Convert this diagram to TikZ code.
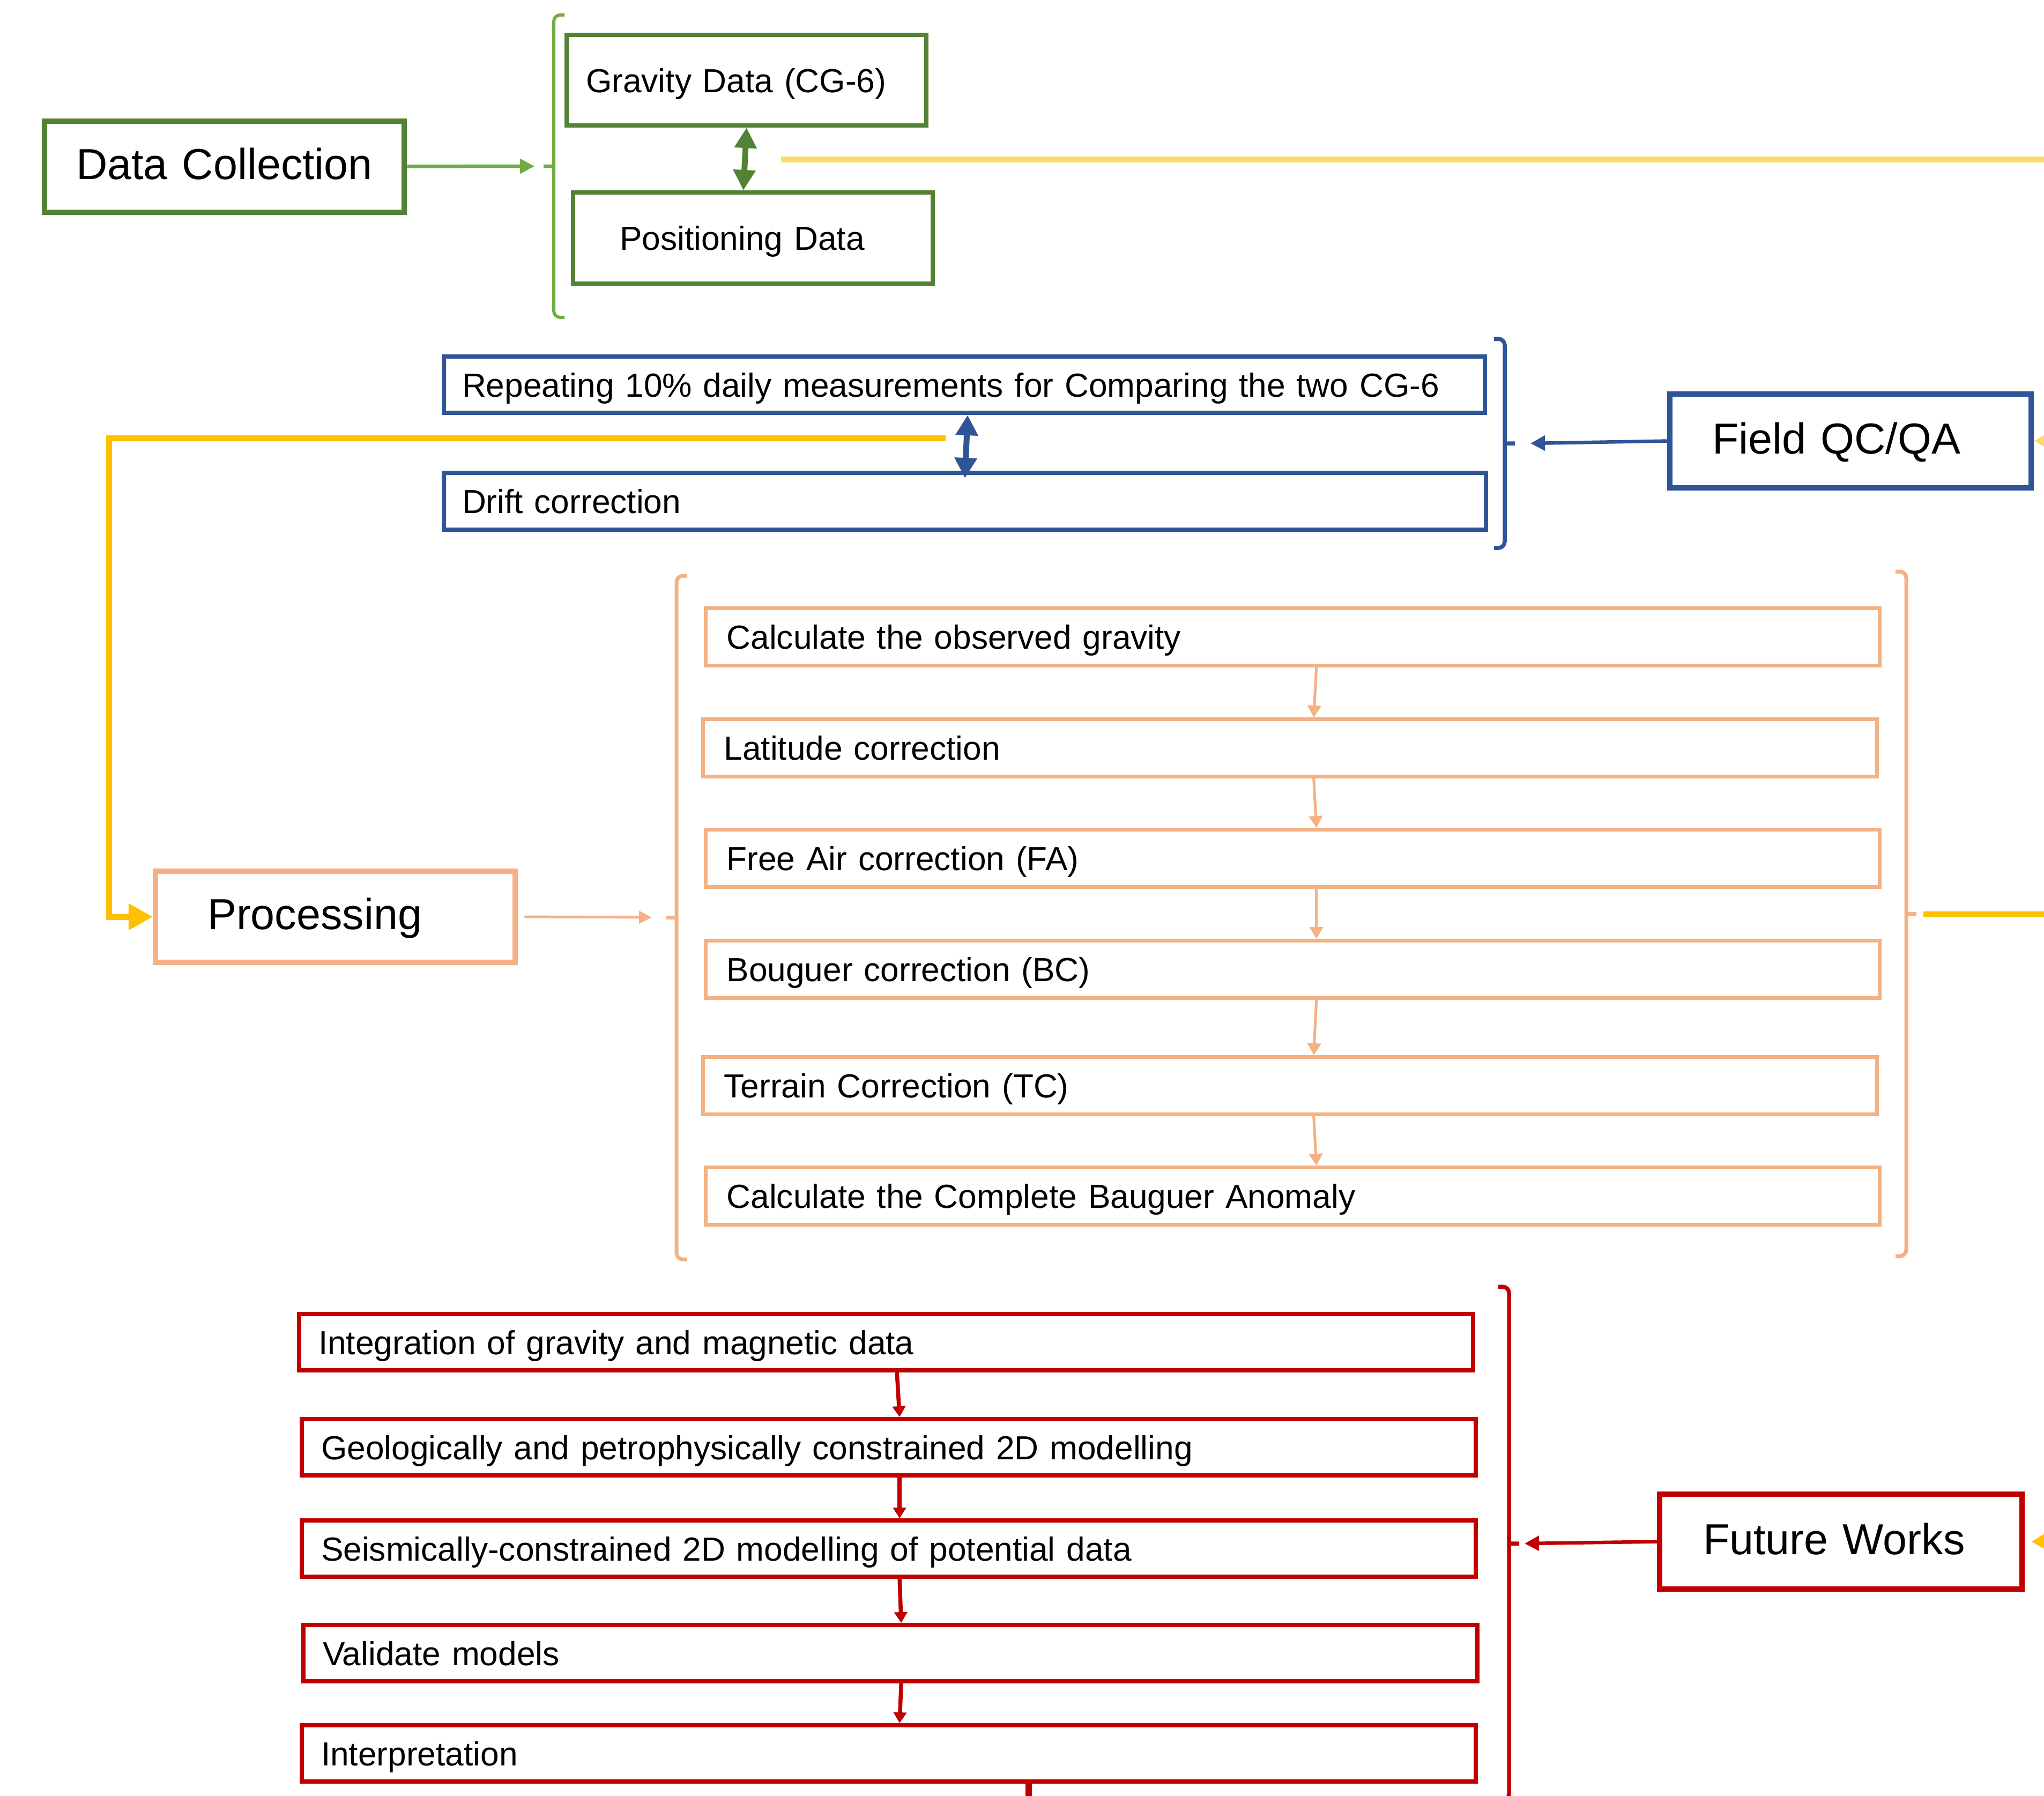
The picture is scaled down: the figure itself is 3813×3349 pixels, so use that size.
\documentclass[tikz,border=0pt]{standalone}
\usepackage{fontspec}
\setmainfont{Liberation Sans}
\usetikzlibrary{arrows.meta}
\definecolor{leaf}{HTML}{548235}
\definecolor{lime}{HTML}{70AD47}
\definecolor{navy}{HTML}{2F5597}
\definecolor{peach}{HTML}{F4B183}
\definecolor{crimson}{HTML}{C00000}
\definecolor{amber}{HTML}{FFC000}
\definecolor{butter}{HTML}{FFD966}
\begin{document}
\begin{tikzpicture}[x=0.01cm, y=-0.01cm, >={Triangle[length=0.27cm,width=0.27cm]}]
  \tikzset{task/.style={draw, rectangle, anchor=north west, align=left, inner ysep=0pt,
      line width=0.08cm, text height=12.9pt, text depth=0pt, font=\fontsize{17.7}{21}\selectfont},
    stage/.style={task, line width=0.1cm, inner xsep=0.2cm, text height=16.8pt, text depth=3.4pt,
      font=\fontsize{23}{27}\selectfont},
    lead/.style={execute at begin node=\hspace*{#1}},
    twoway/.style={line width=0.11cm,
      arrows={Triangle[length=0.38cm,width=0.4cm]-Triangle[length=0.38cm,width=0.4cm]}},
    feed/.style={amber, line width=0.11cm},
    bracket/.style args={#1:#2:#3:#4}{insert path={
      [rounded corners=0.12cm] ({#1+(#4)*20},#2) -- (#1,#2) -- (#1,#3) -- ({#1+(#4)*20},#3)
      (#1,{(#2+#3)/2}) -- ({#1-(#4)*19},{(#2+#3)/2})}}}
  \useasboundingbox (0,0) rectangle (3813,3349);
  \node[stage, draw=leaf, minimum height=1.70cm, text width=6.31cm, lead=0.39cm] (dc) at (78,221) {Data Collection};
  \node[task, draw=leaf, minimum height=1.69cm, text width=5.99cm, inner xsep=0.36cm] (grav) at (1053,61) {Gravity Data (CG-6)};
  \node[task, draw=leaf, minimum height=1.70cm, text width=4.97cm, inner xsep=0.87cm] (pos) at (1065,355) {Positioning Data};
  \draw[lime, line width=0.06cm, bracket=1033:28:592:1];
  \coordinate (gin) at (997,310);
  \draw[->, lime, line width=0.065cm] (dc) -- (gin);
  \draw[twoway, leaf] (grav.south) -- ([xshift=-0.18cm]pos.north);
  \coordinate (ly1) at (1457,298); \coordinate (ly2) at (3850,298);
  \draw[butter, line width=0.11cm] (ly1) -- (ly2);
  \node[task, draw=navy, minimum height=1.05cm, text width=18.73cm, inner xsep=0.34cm] (rep) at (824,661) {Repeating 10\% daily measurements for Comparing the two CG-6};
  \node[task, draw=navy, minimum height=1.06cm, text width=18.75cm, inner xsep=0.34cm] (drift) at (824,878) {Drift correction};
  \node[stage, draw=navy, minimum height=1.75cm, text width=6.34cm, lead=0.59cm] (qc) at (3110,730) {Field QC/QA};
  \draw[navy, line width=0.075cm, bracket=2807:632:1022:-1];
  \coordinate (bin) at (2855,827);
  \draw[->, navy, line width=0.065cm] (qc.west) -- (bin);
  \draw[twoway, navy] ([xshift=0.06cm]rep.south) -- ([yshift=-0.14cm]drift.north);
  \coordinate (ql) at (3950,821);
  \draw[butter, line width=0.11cm, -{Triangle[length=0.45cm,width=0.5cm]}] (ql) -- (qc.east);
  \node[stage, draw=peach, minimum height=1.70cm, text width=6.31cm, lead=0.77cm] (proc) at (285,1620) {Processing};
  \coordinate (yl) at (1764,817);
  \draw[feed, -{Triangle[length=0.45cm,width=0.47cm]}] (yl) -| ([xshift=-0.81cm]proc.west) -- (proc.west);
  \draw[peach, line width=0.07cm, bracket=1262:1074:2349:1];
  \draw[peach, line width=0.07cm, bracket=3556:1066:2343:-1];
  \coordinate (oin) at (1216,1711);
  \draw[->, >={Triangle[length=0.24cm,width=0.23cm]}, peach, line width=0.05cm] ([xshift=0.12cm]proc.east) -- (oin);
  \foreach \x/\y/\t [count=\i] in {1313/1131/Calculate the observed gravity, 1308/1338/Latitude correction,
      1313/1544/Free Air correction (FA), 1313/1751/Bouguer correction (BC),
      1308/1968/Terrain Correction (TC), 1313/2174/Calculate the Complete Bauguer Anomaly}
    \node[task, draw=peach, line width=0.07cm, minimum height=1.07cm, text width=21.11cm, inner xsep=0.39cm] (p\i) at (\x,\y) {\t};
  \foreach \i [evaluate=\i as \j using int(\i+1)] in {1,...,5}
    \draw[->, >={Triangle[length=0.22cm,width=0.25cm]}, peach, line width=0.05cm] ([xshift=0.44cm]p\i.south) -- ([xshift=0.44cm]p\j.north);
  \coordinate (oy1) at (3588,1705); \coordinate (oy2) at (3850,1705);
  \draw[feed] (oy1) -- (oy2);
  \foreach \x/\y/\t [count=\i] in {554/2447/Integration of gravity and magnetic data,
      559/2643/Geologically and petrophysically constrained 2D modelling,
      559/2832/Seismically-constrained 2D modelling of potential data, 562/3027/Validate models, 559/3214/Interpretation}
    \node[task, draw=crimson, minimum height=1.05cm, text width=21.17cm, inner xsep=0.36cm] (f\i) at (\x,\y) {\t};
  \foreach \i [evaluate=\i as \j using int(\i+1)] in {1,...,4}
    \draw[->, >={Triangle[length=0.2cm,width=0.24cm]}, crimson, line width=0.075cm] ([xshift=0.2cm]f\i.south) -- ([xshift=0.2cm]f\j.north);
  \coordinate (exit) at (1919,3400);
  \draw[crimson, line width=0.12cm] (f5.south -| exit) -- (exit);
  \node[stage, draw=crimson, minimum height=1.77cm, text width=6.36cm, lead=0.61cm] (fw) at (3091,2782) {Future Works};
  \draw[crimson, line width=0.075cm, bracket=2815:2400:3358:-1];
  \coordinate (rin) at (2844,2879);
  \draw[->, crimson, line width=0.065cm] (fw.west) -- (rin);
  \coordinate (fy) at (3950,2872);
  \draw[feed, -{Triangle[length=0.45cm,width=0.5cm]}] (fy) -- ([xshift=0.12cm]fw.east);
\end{tikzpicture}
\end{document}
